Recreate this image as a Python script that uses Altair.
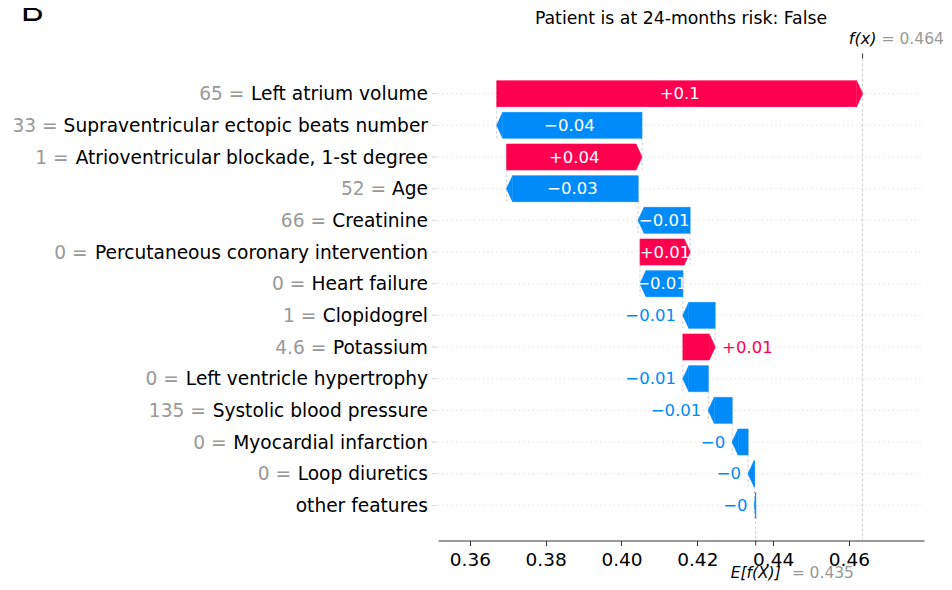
import altair as alt
import pandas as pd

# ---------------- data ----------------
features = [
    "Left atrium volume",
    "Supraventricular ectopic beats number",
    "Atrioventricular blockade, 1-st degree",
    "Age",
    "Creatinine",
    "Percutaneous coronary intervention",
    "Heart failure",
    "Clopidogrel",
    "Potassium",
    "Left ventricle hypertrophy",
    "Systolic blood pressure",
    "Myocardial infarction",
    "Loop diuretics",
    "other features",
]
feature_values = ["65", "33", "1", "52", "66", "0", "0", "1", "4.6", "0", "135", "0", "0", ""]
shap_values = [0.0965, -0.0383, 0.0357, -0.0347, -0.0137, 0.0132, -0.0113,
               -0.0085, 0.0085, -0.0067, -0.0063, -0.0042, -0.0017, -0.0003]
base_value = 0.4354
x_ticks = [0.36, 0.38, 0.40, 0.42, 0.44, 0.46]
title_text = "Patient is at 24-months risk: False"
panel_letter = "B"

# ---------------- style / layout ----------------
RED = "#ff0051"
BLUE = "#008bfb"
FONT = "DejaVu Sans"
LABEL_SIZE = 18.6
TOTAL_W, TOTAL_H = 936, 574
W, H = 486, 482
PAD_L, PAD_T = 430, 50.5
X_DOMAIN = [0.3516, 0.4798]
Y_DOMAIN = [-1.11, 14.11]
HEAD = 6 * (X_DOMAIN[1] - X_DOMAIN[0]) / W
HALF = 0.41
LABEL_X = -10

# DejaVu Sans advance widths (units per em = 2048), used to place the grey prefixes
_ADV = {' ': 651, ',': 651, '-': 739, '.': 651, '=': 1716,
        'A': 1401, 'B': 1405, 'C': 1430, 'D': 1577, 'E': 1294, 'F': 1178, 'G': 1587,
        'H': 1540, 'I': 604, 'J': 604, 'K': 1343, 'L': 1141, 'M': 1767, 'N': 1532,
        'O': 1612, 'P': 1235, 'Q': 1612, 'R': 1423, 'S': 1300, 'T': 1251, 'U': 1499,
        'V': 1401, 'W': 2025, 'X': 1403, 'Y': 1251, 'Z': 1403,
        'a': 1255, 'b': 1300, 'c': 1126, 'd': 1300, 'e': 1260, 'f': 721, 'g': 1300,
        'h': 1298, 'i': 569, 'j': 569, 'k': 1186, 'l': 569, 'm': 1995, 'n': 1298,
        'o': 1253, 'p': 1300, 'q': 1300, 'r': 842, 's': 1067, 't': 803, 'u': 1298,
        'v': 1212, 'w': 1675, 'x': 1212, 'y': 1212, 'z': 1075}
for _d in "0123456789":
    _ADV[_d] = 1303


def text_width(s, size):
    return sum(_ADV.get(c, 1250) for c in s) * size / 2048


n = len(features)
starts, ends = [0.0] * n, [0.0] * n
cum = base_value
for r in range(n - 1, -1, -1):
    starts[r] = cum
    cum += shap_values[r]
    ends[r] = cum
fx = cum


def fmt(v):
    s = f"{v:+.2f}".rstrip("0").rstrip(".")
    return s.replace("-", "\u2212")


rows = pd.DataFrame({
    "row": list(range(n)),
    "feature": features,
    "prefix": [f"{v} =" if v else "" for v in feature_values],
    "start": starts,
    "end": ends,
    "value": shap_values,
    "sign": ["pos" if v > 0 else "neg" for v in shap_values],
    "label": [fmt(v) for v in shap_values],
})
rows["prefix_px"] = [LABEL_X - text_width(" " + f, LABEL_SIZE) for f in features]
rows["lo"] = rows[["start", "end"]].min(axis=1)
rows["hi"] = rows[["start", "end"]].max(axis=1)
rows["mid"] = (rows["lo"] + rows["hi"]) / 2
rows["inside"] = rows["value"].abs() >= 0.01

body, head = [], []
for r in range(n):
    lo, hi = rows.loc[r, "lo"], rows.loc[r, "hi"]
    hl = min(HEAD, hi - lo)
    pos = shap_values[r] > 0
    sg = "pos" if pos else "neg"
    if pos:
        body.append({"row": r, "x": lo, "x2": hi - hl, "y": r - HALF, "y2": r + HALF, "sign": sg})
        pts = [(hi - hl, r - HALF), (hi, r), (hi - hl, r + HALF)]
    else:
        body.append({"row": r, "x": lo + hl, "x2": hi, "y": r - HALF, "y2": r + HALF, "sign": sg})
        pts = [(lo + hl, r - HALF), (lo, r), (lo + hl, r + HALF)]
    for k, (px, py) in enumerate(pts):
        head.append({"row": r, "k": k, "x": px, "y": py, "sign": sg})
body = pd.DataFrame(body)
head = pd.DataFrame(head)

conn = pd.DataFrame({
    "x": starts[:-1],
    "y": [r - 0.4 for r in range(n - 1)],
    "y2": [r + 1.4 for r in range(n - 1)],
})

span = Y_DOMAIN[1] - Y_DOMAIN[0]
marks = pd.DataFrame({
    "x": [fx, base_value],
    "y": [Y_DOMAIN[0], Y_DOMAIN[1] - span / n],
    "y2": [Y_DOMAIN[1], Y_DOMAIN[1]],
    "name": ["f(x)", "E[f(X)]"],
    "eq": [f"= {fx:.3f}", f"= {base_value:.3f}"],
})

xscale = alt.Scale(domain=X_DOMAIN, nice=False, zero=False)
yscale = alt.Scale(domain=Y_DOMAIN, nice=False, zero=False, reverse=True)
xaxis = alt.Axis(values=x_ticks, format=".2f", title=None, grid=False,
                 labelFont=FONT, labelFontSize=18.5, labelColor="#000000",
                 domainColor="#333333", tickColor="#333333", tickSize=5,
                 labelPadding=4.5, labelFlush=False, labelOverlap=False)


def X(field):
    return alt.X(f"{field}:Q", scale=xscale, axis=xaxis, title=None)


def Y(field):
    return alt.Y(f"{field}:Q", scale=yscale, axis=None, title=None)


color_scale = alt.Scale(domain=["pos", "neg"], range=[RED, BLUE])
fill_enc = alt.Color("sign:N", scale=color_scale, legend=None)
stroke_enc = alt.Stroke("sign:N", scale=color_scale, legend=None)

base_rows = alt.Chart(rows)

row_lines = base_rows.mark_rule(color="#cccccc", strokeWidth=0.8, strokeDash=[1, 3.5]).encode(
    x=alt.value(0), x2=alt.value(W), y=Y("row"))
ytick_marks = base_rows.mark_rule(color="#cccccc", strokeWidth=0.8).encode(
    x=alt.value(-6), x2=alt.value(-1), y=Y("row"))

connectors = alt.Chart(conn).mark_rule(color="#bbbbbb", strokeWidth=0.7, strokeDash=[3, 2]).encode(
    x=X("x"), y=Y("y"), y2="y2")

ref_lines = alt.Chart(marks).mark_rule(color="#bbbbbb", strokeWidth=0.7, strokeDash=[3, 2]).encode(
    x=X("x"), y=Y("y"), y2="y2")

fx_tick = alt.Chart(marks).transform_filter("datum.name == 'f(x)'").mark_rule(
    color="#333333", strokeWidth=1).encode(x=X("x"), y=alt.value(-5), y2=alt.value(0))
e_tick = alt.Chart(marks).transform_filter("datum.name != 'f(x)'").mark_rule(
    color="#333333", strokeWidth=1).encode(x=X("x"), y=alt.value(H), y2=alt.value(H + 5))

bodies = alt.Chart(body).mark_rect(strokeWidth=0.6).encode(
    x=X("x"), x2="x2", y=Y("y"), y2="y2", color=fill_enc, stroke=stroke_enc)
heads = alt.Chart(head).mark_line(filled=True, strokeWidth=0.8, interpolate="linear").encode(
    x=X("x"), y=Y("y"), color=fill_enc, stroke=stroke_enc,
    detail="row:N", order="k:Q")

inside_txt = base_rows.transform_filter("datum.inside").mark_text(
    font=FONT, fontSize=16.5, color="white", align="center", baseline="alphabetic", dy=5.8).encode(
    x=X("mid"), y=Y("row"), text="label:N")
out_neg = base_rows.transform_filter("!datum.inside && datum.value < 0").mark_text(
    font=FONT, fontSize=16.5, color=BLUE, align="right", baseline="alphabetic", dx=-7, dy=5.8).encode(
    x=X("lo"), y=Y("row"), text="label:N")
out_pos = base_rows.transform_filter("!datum.inside && datum.value > 0").mark_text(
    font=FONT, fontSize=16.5, color=RED, align="left", baseline="alphabetic", dx=7, dy=5.8).encode(
    x=X("hi"), y=Y("row"), text="label:N")

label_gray = base_rows.transform_filter("datum.prefix != ''").mark_text(
    font=FONT, fontSize=LABEL_SIZE, color="#999999", align="right", baseline="alphabetic", dy=6.7).encode(
    x=alt.X("prefix_px:Q", scale=None), y=Y("row"), text="prefix:N")
label_black = base_rows.mark_text(
    font=FONT, fontSize=LABEL_SIZE, color="#000000", align="right", baseline="alphabetic", dy=6.7).encode(
    x=alt.value(LABEL_X), y=Y("row"), text="feature:N")

fx_name = alt.Chart(marks).transform_filter("datum.name == 'f(x)'").mark_text(
    font=FONT, fontSize=16, fontStyle="italic", color="#000000", align="center", baseline="alphabetic").encode(
    x=X("x"), y=alt.value(-14.5), text="name:N")
fx_eq = alt.Chart(marks).transform_filter("datum.name == 'f(x)'").mark_text(
    font=FONT, fontSize=15.5, color="#999999", align="left", baseline="alphabetic", dx=19).encode(
    x=X("x"), y=alt.value(-14.5), text="eq:N")
e_name = alt.Chart(marks).transform_filter("datum.name != 'f(x)'").mark_text(
    font=FONT, fontSize=15.5, fontStyle="italic", color="#000000", align="center", baseline="alphabetic").encode(
    x=X("x"), y=alt.value(H + 37.5), text="name:N")
e_eq = alt.Chart(marks).transform_filter("datum.name != 'f(x)'").mark_text(
    font=FONT, fontSize=15.5, color="#999999", align="left", baseline="alphabetic", dx=36).encode(
    x=X("x"), y=alt.value(H + 37.5), text="eq:N")

title_df = pd.DataFrame({"t": [title_text], "p": [panel_letter]})
title_mark = alt.Chart(title_df).mark_text(
    font=FONT, fontSize=17.3, color="#000000", align="center", baseline="alphabetic").encode(
    x=alt.value(W / 2), y=alt.value(-35), text="t:N")
letter_mark = alt.Chart(title_df).mark_text(
    font="Liberation Sans", fontSize=34, color="#000000", align="left", baseline="alphabetic").encode(
    x=alt.value(21 - 8 - PAD_L), y=alt.value(-38), text="p:N")

chart = alt.layer(
    row_lines, ytick_marks, connectors, ref_lines, fx_tick, e_tick, bodies, heads,
    inside_txt, out_neg, out_pos, label_gray, label_black,
    fx_name, fx_eq, e_name, e_eq, title_mark, letter_mark,
).properties(
    width=W, height=H,
    autosize=alt.AutoSizeParams(type="none"),
    padding={"left": PAD_L, "top": PAD_T, "right": TOTAL_W - PAD_L - W, "bottom": TOTAL_H - PAD_T - H},
).configure_view(stroke=None)

chart.save("out.html", embed_options={"renderer": "svg", "actions": False})
